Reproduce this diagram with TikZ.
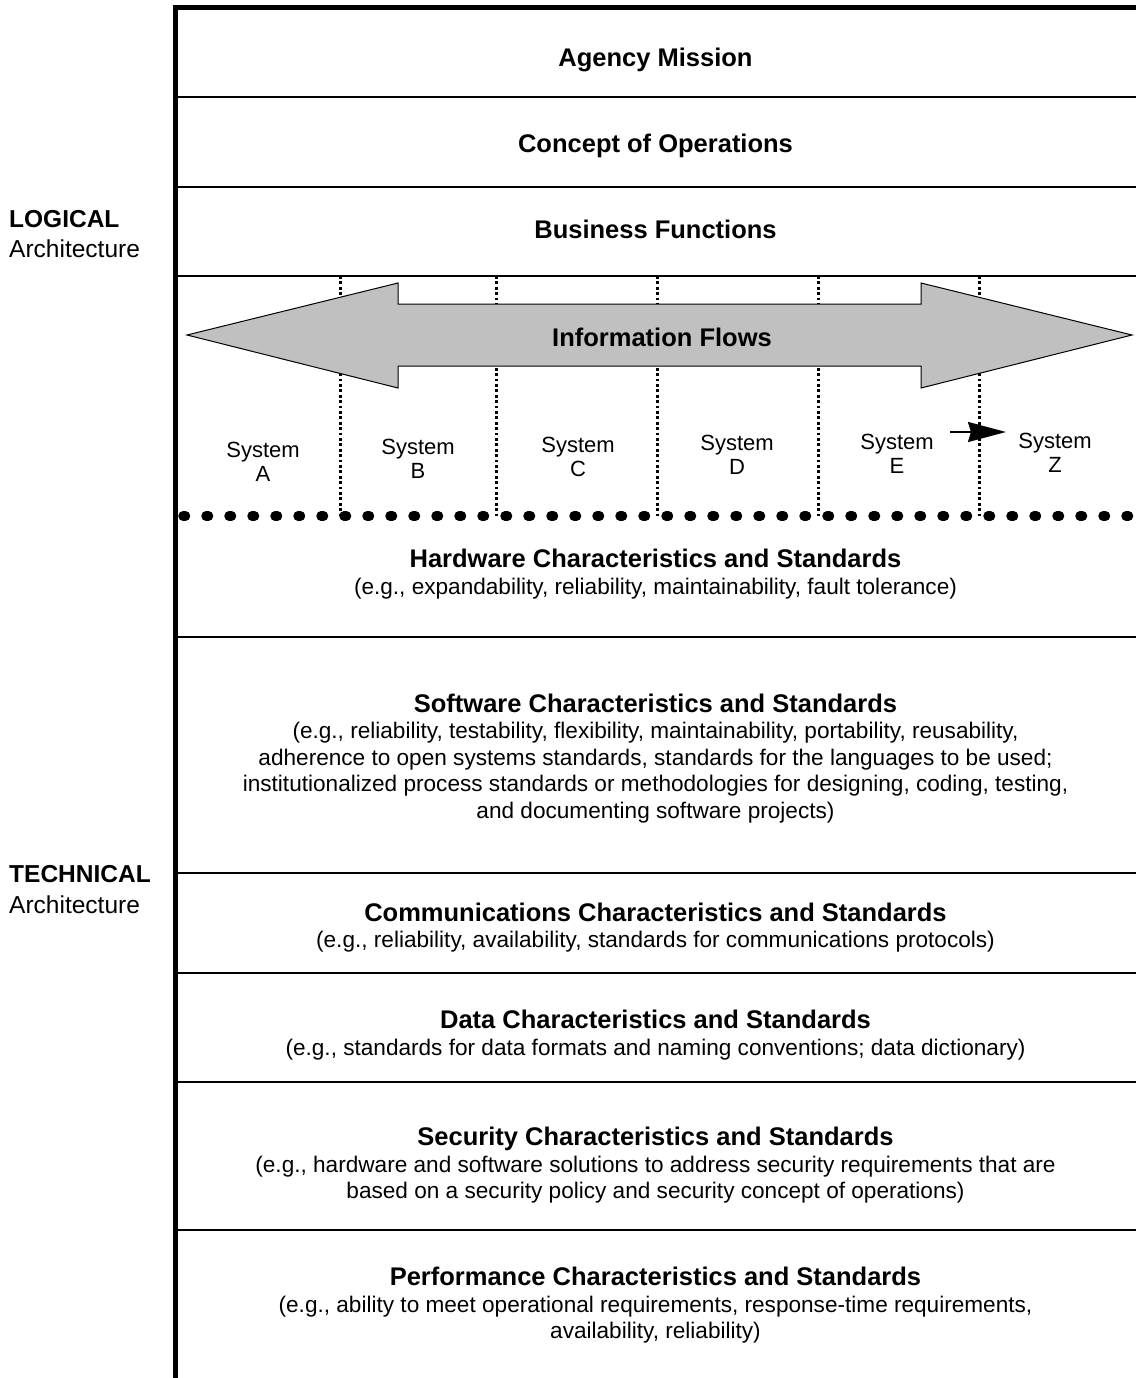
\documentclass[tikz,border=0pt]{standalone}
\usepackage{fontspec}
\setmainfont{Liberation Sans}
\usetikzlibrary{arrows.meta}
\newcommand\blocktitle{\fontsize{25.5}{26.5}\selectfont\bfseries}
\tikzset{
  rulethin/.style={line width=1.5pt},
  heavy/.style={line width=5pt},
  sepdots/.style={line width=3pt, dash pattern=on 2.8pt off 2.6pt},
  bigdots/.style={line width=9.5pt, dash pattern=on 2.5pt off 20.5pt, line cap=round},
  ttl/.style={font=\blocktitle, inner sep=0pt, anchor=base},
  blk/.style={font=\fontsize{22.6}{26.5}\selectfont, align=center, inner sep=0pt},
  sys/.style={font=\fontsize{22}{24}\selectfont, align=center, inner sep=0pt},
  side/.style={font=\fontsize{24.5}{30}\selectfont, inner sep=0pt, anchor=base west},
  flow/.style={fill={rgb,255:red,192;green,192;blue,192}, draw=black, line width=1pt},
  push/.style={line width=2pt, -{Stealth[length=38pt,width=20pt,inset=3pt]}},
}
\begin{document}
\begin{tikzpicture}[x=1pt,y=-1pt]
\useasboundingbox (0,0) rectangle (1135,1378);
% vertical separators between systems
\foreach \xx/\nm in {340/v1,496/v2,657/v3,818/v4,979/v5}{
  \coordinate (\nm t) at (\xx,276);
  \coordinate (\nm b) at (\xx,516);
  \draw[sepdots] (\nm t) -- (\nm b);
}
% information flow double arrow
\filldraw[flow] (187,335) -- (398,283) -- (398,304) -- (921,304) -- (921,283)
  -- (1132,335) -- (921,388) -- (921,366) -- (398,366) -- (398,388) -- cycle;
% frame
\coordinate (lt) at (175.5,5);
\coordinate (lb) at (175.5,1380);
\coordinate (tl) at (173,7.5);
\coordinate (tr) at (1136,7.5);
\draw[heavy] (lt) -- (lb);
\draw[heavy] (tl) -- (tr);
\foreach \yy/\nm in {97/h1,187/h2,276/h3,637/h4,873/h5,973/h6,1082/h7,1230/h8}{
  \coordinate (\nm l) at (178,\yy);
  \coordinate (\nm r) at (1136,\yy);
  \draw[rulethin] (\nm l) -- (\nm r);
}
\coordinate (dl) at (183,516);
\coordinate (dr) at (1140,516);
\draw[bigdots] (dl) -- (dr);
% titles
\node[ttl] (mission) at (655.5,67) {Agency Mission};
\node[ttl] (conops) at (655.5,153) {Concept of Operations};
\node[ttl] (busfn) at (655.5,238) {Business Functions};
\node[ttl] (info) at (662,346) {Information Flows};
% systems
\node[sys] (sA) at (263,462) {System\\A};
\node[sys] (sB) at (418,459) {System\\B};
\node[sys] (sC) at (578,457) {System\\C};
\node[sys] (sD) at (737,455) {System\\D};
\node[sys] (sE) at (897,454) {System\\E};
\node[sys] (sZ) at (1055,453) {System\\Z};
\coordinate (ea) at (950,432);
\coordinate (eb) at (1006,432);
\draw[push] (ea) -- (eb);
% technical blocks
\node[blk] (hw) at (655.5,574) {{\blocktitle Hardware Characteristics and Standards}\\
 (e.g., expandability, reliability, maintainability, fault tolerance)};
\node[blk] (sw) at (655.5,758.5) {{\blocktitle Software Characteristics and Standards}\\
 (e.g., reliability, testability, flexibility, maintainability, portability, reusability,\\
 adherence to open systems standards, standards for the languages to be used;\\
 institutionalized process standards or methodologies for designing, coding, testing,\\
 and documenting software projects)};
\node[blk] (comm) at (655.5,927.5) {{\blocktitle Communications Characteristics and Standards}\\
 (e.g., reliability, availability, standards for communications protocols)};
\node[blk] (data) at (655.5,1035) {{\blocktitle Data Characteristics and Standards}\\
 (e.g., standards for data formats and naming conventions; data dictionary)};
\node[blk] (sec) at (655.5,1165.5) {{\blocktitle Security Characteristics and Standards}\\
 (e.g., hardware and software solutions to address security requirements that are\\
 based on a security policy and security concept of operations)};
\node[blk] (perf) at (655.5,1305.5) {{\blocktitle Performance Characteristics and Standards}\\
 (e.g., ability to meet operational requirements, response-time requirements,\\
 availability, reliability)};
% side labels
\node[side] (logical) at (9,227) {\textbf{LOGICAL}};
\node[side] (logarch) at (9,257) {Architecture};
\node[side] (technical) at (9,882) {\textbf{TECHNICAL}};
\node[side] (techarch) at (9,913) {Architecture};
\end{tikzpicture}
\end{document}
